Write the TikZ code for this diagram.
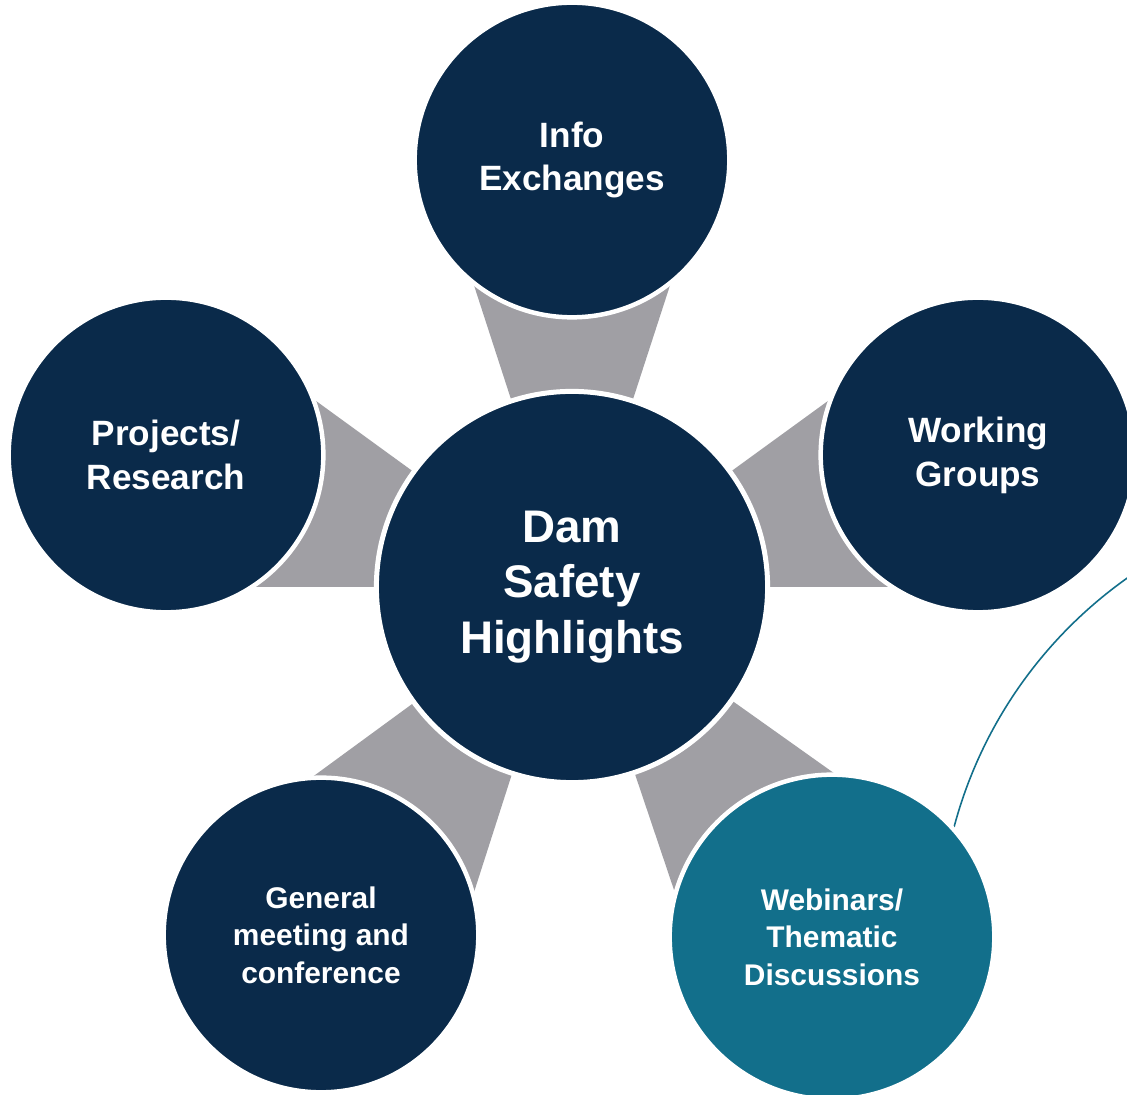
\documentclass[tikz,border=0pt]{standalone}
\usepackage{fontspec}
\setmainfont{Liberation Sans}
\usetikzlibrary{calc}
\definecolor{navy}{HTML}{0A2A4A}
\definecolor{tealc}{HTML}{126F8B}
\definecolor{wedgegray}{HTML}{A09FA4}
\begin{document}
\begin{tikzpicture}[x=0.01cm,y=-0.01cm,
  outer/.style={circle, fill=navy, draw=white, line width=1.28pt, minimum size=3.145cm,
    inner sep=0pt, text=white, align=center, font=\bfseries\fontsize{10}{12.5}\selectfont},
  small/.style={font=\bfseries\fontsize{8.5}{10.7}\selectfont},
  hub/.style={circle, fill=navy, draw=white, line width=1.42pt, minimum size=3.91cm,
    inner sep=0pt, text=white, align=center, font=\bfseries\fontsize{13}{15.7}\selectfont},
  wedge/.style={fill=wedgegray, draw=none}]
\useasboundingbox (0,0) rectangle (1127,1095);
\clip (0,0) rectangle (1127,1095);
\fill[white] (0,0) rectangle (1127,1095);
% centres
\coordinate (cC) at (572,587);
\coordinate (cT) at (572,160);
\coordinate (cL) at (166,455);
\coordinate (cR) at (978,455);
\coordinate (cBL) at (321,935);
\coordinate (cBR) at (832,937);
\coordinate (arcC) at (1385,942);
% wedges
\foreach \o in {cT,cL,cR,cBL,cBR}{
  \fill[wedge] (cC) -- ($(cC)!1.0515!18:(\o)$) -- ($(cC)!1.0515!-18:(\o)$) -- cycle;
}
% thin teal arc
\draw[tealc, line width=0.45pt] (arcC) ++(190:446) arc[start angle=190, end angle=270, radius=446];
% circles
\node[hub] (hub) at (cC) {Dam\\Safety\\Highlights};
\node[outer] (top) at (cT) {Info\\Exchanges};
\node[outer] (left) at (cL) {Projects/\\Research};
\node[outer] (right) at (cR) {Working\\Groups};
\node[outer, small] (bl) at (cBL) {General\\meeting and\\conference};
\node[outer, small, fill=tealc, minimum size=3.245cm] (br) at (cBR) {Webinars/\\Thematic\\Discussions};
\end{tikzpicture}
\end{document}
